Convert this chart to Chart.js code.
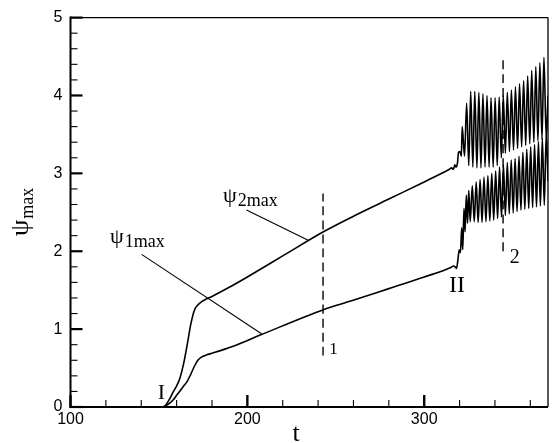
<!DOCTYPE html>
<html>
<head>
<meta charset="utf-8">
<script src="https://cdn.jsdelivr.net/npm/chart.js@4.4.1/dist/chart.umd.min.js"></script>
<style>
html,body{margin:0;padding:0;background:#fff;}
#wrap{width:552px;height:443px;}
</style>
</head>
<body>
<div id="wrap"><canvas id="c" width="552" height="443"></canvas></div>
<script>
// ---- axis settings ----
const xMin = 100, xMax = 370, xMinorStep = 20;
const xTickLabels = [100, 200, 300];
const yMin = 0, yMax = 5, yMinorStep = 0.2;
const yTickLabels = [0, 1, 2, 3, 4, 5];

// ---- series psi_1max ----
const t1 = [152.4,155,158,160,162,164,166,168,170,172,174,177,180,192,208,243,258.5,280,300,315,316.5,317.5,318.3,319.0,319.8,320.5,321.2,321.8,322.5,323.1,323.8,324.5,325.2,326.0,327.2,328.3,329.4,330.5,331.6,332.7,333.8,334.9,336.0,337.1,338.2,339.3,340.4,341.5,342.6,343.7,344.8,345.9,347.0,348.1,349.2,350.3,351.4,352.5,353.6,354.7,355.8,356.9,358.0,359.1,360.2,361.3,362.4,363.5,364.6,365.7,366.8,367.9,369.0,370];
const psi1 = [0,0.03,0.09,0.15,0.21,0.27,0.33,0.42,0.52,0.60,0.64,0.67,0.69,0.78,0.93,1.25,1.36,1.52,1.67,1.79,1.81,1.80,1.78,1.88,2.02,1.98,2.30,2.02,2.55,2.25,2.72,2.36,2.78,2.38,2.84,2.38,2.89,2.37,2.92,2.37,2.95,2.38,2.97,2.39,3.00,2.40,3.03,2.42,3.08,2.44,3.11,2.46,3.14,2.48,3.17,2.49,3.19,2.51,3.22,2.53,3.27,2.54,3.31,2.55,3.34,2.56,3.37,2.57,3.41,2.58,3.45,2.59,3.50,2.90];

// ---- series psi_2max ----
const t2 = [152.4,154,156,158,160,162,164,166,168,170,172,174,177,180,190,200,220,243,260,280,300,314,315.5,316.5,317.3,318,318.8,319.4,320.2,321,321.5,322.8,324.0,325.2,326.3,327.5,328.6,329.8,330.9,332.1,333.2,334.4,335.5,336.7,337.8,339.0,340.1,341.3,342.4,343.6,344.7,345.9,347.0,348.2,349.3,350.5,351.6,352.8,353.9,355.1,356.2,357.4,358.5,359.7,360.8,362.0,363.1,364.3,365.4,366.6,367.7,369.0,370];
const psi2 = [0,0.03,0.10,0.19,0.27,0.38,0.56,0.80,1.06,1.24,1.31,1.35,1.39,1.42,1.54,1.67,1.94,2.25,2.45,2.67,2.89,3.05,3.07,3.05,3.11,3.08,3.13,3.27,3.28,3.22,3.60,3.22,3.90,3.10,4.05,3.08,4.05,3.07,4.04,3.07,4.02,3.08,4.00,3.08,3.97,3.08,3.97,3.10,3.98,3.20,4.00,3.26,4.04,3.28,4.07,3.30,4.11,3.32,4.15,3.34,4.19,3.36,4.25,3.38,4.32,3.40,4.37,3.42,4.42,3.44,4.49,3.46,4.00];

// ---- dashed marker lines ----
const dash1T = [242.8, 242.8], dash1V = [0.66, 2.74];
const dash2T = [344.6, 344.6], dash2V = [2.00, 4.46];

// ---- leader lines for labels ----
const lead2T = [199.5, 234.4], lead2V = [2.53, 2.14];
const lead1T = [140.2, 208.0], lead1V = [1.96, 0.94];

// ---- text annotations [t, value] ----
const labelPsi2 = {t: 186.2, v: 2.58, sub: '2max'};
const labelPsi1 = {t: 122.3, v: 2.05, sub: '1max'};
const labelI = {t: 151.4, v: 0.10, text: 'I'};
const labelII = {t: 318.6, v: 1.48, text: 'II'};
const label1 = {t: 246.3, v: 0.68, text: '1'};
const label2 = {t: 348.4, v: 1.85, text: '2'};

const zip = (xs, ys) => xs.map((x, i) => ({x: x, y: ys[i]}));

const serif = "'Liberation Serif', 'DejaVu Serif', serif";
const sans = "'Liberation Sans', Arial, sans-serif";

const decor = {
  id: 'decor',
  afterDraw(chart) {
    const {ctx, chartArea: a, scales: {x, y}} = chart;
    ctx.save();
    ctx.strokeStyle = '#000';
    ctx.fillStyle = '#000';
    const seg = (x1, y1, x2, y2, w) => { ctx.lineWidth = w; ctx.beginPath(); ctx.moveTo(x1, y1); ctx.lineTo(x2, y2); ctx.stroke(); };
    // frame
    seg(a.left, a.top, a.right, a.top, 1.3);
    seg(a.right, a.top, a.right, a.bottom, 1.3);
    seg(a.left, a.top - 1, a.left, a.bottom + 1, 2);
    seg(a.left - 1, a.bottom, a.right, a.bottom, 2);
    // x ticks (inward)
    for (let v = xMin; v <= xMax + 1e-6; v += xMinorStep) {
      const px = x.getPixelForValue(v);
      if (px > a.right - 1) continue;
      const major = xTickLabels.includes(v);
      seg(px, a.bottom, px, a.bottom - (major ? 12 : 7), major ? 2.4 : 1.1);
    }
    // y ticks (inward)
    for (let i = 0; i * yMinorStep <= yMax - yMin + 1e-6; i++) {
      const v = yMin + i * yMinorStep;
      const py = y.getPixelForValue(v);
      const major = Math.abs(v - Math.round(v)) < 1e-6;
      seg(a.left, py, a.left + (major ? 12 : 7), py, major ? 2.2 : 1.1);
    }
    // axis title x
    ctx.font = '26px ' + serif;
    ctx.textAlign = 'center';
    ctx.textBaseline = 'alphabetic';
    ctx.fillText('t', 296, 441);
    // axis title y (rotated)
    ctx.save();
    ctx.translate(33, 236);
    ctx.rotate(-Math.PI / 2);
    ctx.textAlign = 'left';
    ctx.font = '26px ' + serif;
    ctx.fillText('ψ', 0, -5);
    const w = ctx.measureText('ψ').width;
    ctx.font = '18px ' + serif;
    ctx.fillText('max', w + 1, 0);
    ctx.restore();
    // psi labels
    const psiLabel = (lab) => {
      const px = x.getPixelForValue(lab.t), py = y.getPixelForValue(lab.v);
      ctx.textAlign = 'left';
      ctx.font = '22px ' + serif;
      ctx.fillText('ψ', px, py - 4);
      const ww = ctx.measureText('ψ').width;
      ctx.font = '18px ' + serif;
      ctx.fillText(lab.sub, px + ww + 1, py);
    };
    psiLabel(labelPsi2);
    psiLabel(labelPsi1);
    const txt = (lab, size, align) => {
      ctx.font = size + 'px ' + serif;
      ctx.textAlign = align;
      ctx.fillText(lab.text, x.getPixelForValue(lab.t), y.getPixelForValue(lab.v));
    };
    txt(labelI, 22, 'center');
    txt(labelII, 24, 'center');
    txt(label1, 17, 'left');
    txt(label2, 20, 'left');
    ctx.restore();
  }
};

const lineDs = (data, extra) => Object.assign({
  data: data, borderColor: '#000', borderWidth: 1.5, pointRadius: 0, fill: false,
  cubicInterpolationMode: 'monotone'
}, extra || {});

new Chart(document.getElementById('c'), {
  type: 'line',
  data: {
    datasets: [
      lineDs(zip(t1, psi1), {label: 'psi1max', borderWidth: 1.6}),
      lineDs(zip(t2, psi2), {label: 'psi2max', borderWidth: 1.6}),
      lineDs(zip(dash1T, dash1V), {label: 'd1', borderDash: [9, 5], borderWidth: 1.4}),
      lineDs(zip(dash2T, dash2V), {label: 'd2', borderDash: [9, 5], borderWidth: 1.4}),
      lineDs(zip(lead2T, lead2V), {label: 'l2', borderWidth: 1.1}),
      lineDs(zip(lead1T, lead1V), {label: 'l1', borderWidth: 1.1})
    ]
  },
  options: {
    responsive: false,
    animation: false,
    layout: {padding: {left: 0, right: 4, top: 11, bottom: 0}},
    plugins: {legend: {display: false}, tooltip: {enabled: false}},
    scales: {
      x: {
        type: 'linear', min: xMin, max: xMax,
        grid: {display: false, drawTicks: false},
        border: {display: false},
        afterBuildTicks: (s) => { s.ticks = xTickLabels.map(v => ({value: v})); },
        afterFit: (s) => { s.height = 36; },
        ticks: {padding: 3, color: '#000', font: {family: sans, size: 16}, maxRotation: 0,
                callback: (v) => String(v)}
      },
      y: {
        type: 'linear', min: yMin, max: yMax,
        grid: {display: false, drawTicks: false},
        border: {display: false},
        afterBuildTicks: (s) => { s.ticks = yTickLabels.map(v => ({value: v})); },
        afterFit: (s) => { s.width = 70.5; },
        ticks: {padding: 8, color: '#000', font: {family: sans, size: 16},
                callback: (v) => String(v)}
      }
    }
  },
  plugins: [decor]
});
</script>
</body>
</html>
